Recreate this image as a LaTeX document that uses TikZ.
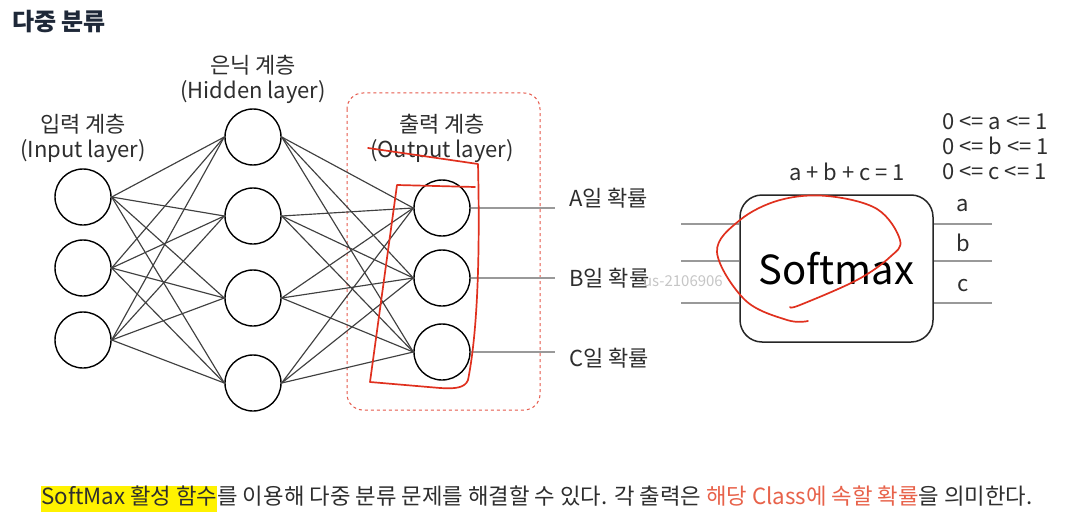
\documentclass[tikz,border=0pt]{standalone}
\usepackage{fontspec}
\setmainfont{Noto Sans CJK KR}
\usetikzlibrary{shapes.misc}
\definecolor{ink}{HTML}{2E2E2E}
\definecolor{titleink}{HTML}{1E2838}
\definecolor{conn}{HTML}{404040}
\definecolor{redpen}{HTML}{E0301E}
\definecolor{orangetxt}{HTML}{E8624A}
\definecolor{hl}{HTML}{FFF200}
\tikzset{
  neuron/.style={circle,draw=black,line width=1.4pt,minimum size=56pt,inner sep=0pt},
  wire/.style={draw=conn,line width=1.15pt},
  outwire/.style={draw=gray!80,line width=1.2pt},
  lbl/.style={text=ink,font=\fontsize{22}{25}\selectfont,align=center,inner sep=0pt},
  pen/.style={draw=redpen,line width=1.7pt,line cap=round,line join=round},
}
\begin{document}
\begin{tikzpicture}[x=1pt,y=-1pt]
\useasboundingbox (0,0) rectangle (1086,524);
\fill[white] (0,0) rectangle (1086,524);

\node[text=titleink,font=\fontsize{24}{28}\selectfont\bfseries,anchor=west,inner sep=0pt] (title) at (12,22) {다중 분류};

% dashed output box
\draw[draw=redpen!80,dashed,line width=1pt,rounded corners=16pt] (347,93) rectangle (540,410);

% layer labels
\node[lbl] (lin) at (83,138) {입력 계층\\(Input layer)};
\node[lbl] (lhid) at (253,79) {은닉 계층\\(Hidden layer)};
\node[lbl] (lout) at (442,138) {출력 계층\\(Output layer)};

% neurons
\node[neuron] (i1) at (83,197) {};
\node[neuron] (i2) at (83,268) {};
\node[neuron] (i3) at (83,340) {};
\node[neuron] (h1) at (253,137) {};
\node[neuron] (h2) at (253,216) {};
\node[neuron] (h3) at (253,298) {};
\node[neuron] (h4) at (253,383) {};
\node[neuron] (o1) at (442,208) {};
\node[neuron] (o2) at (442,278) {};
\node[neuron] (o3) at (442,352) {};

\foreach \i in {1,2,3}{\foreach \h in {1,2,3,4}{\draw[wire] (i\i.east) -- (h\h.west);}}
\foreach \h in {1,2,3,4}{\foreach \o in {1,2,3}{\draw[wire] (h\h.east) -- (o\o.west);}}

% output lines and labels
\coordinate (ea) at (555,208);
\coordinate (eb) at (555,278);
\coordinate (ec) at (555,352);
\draw[outwire] (o1.east) -- (ea);
\draw[outwire] (o2.east) -- (eb);
\draw[outwire] (o3.east) -- (ec);
\node[lbl,anchor=west] (pa) at (569,198) {A일 확률};
\node[lbl,anchor=west] (pb) at (569,278) {B일 확률};
\node[lbl,anchor=west] (pc) at (569,358) {C일 확률};

% watermark
\node[text=gray!45,font=\fontsize{15}{18}\selectfont,anchor=east,inner sep=0pt] (wm) at (723,281) {us-2106906};

% softmax block
\node[draw=black!85,line width=1.5pt,rounded corners=22pt,minimum width=193pt,minimum height=147pt,inner sep=0pt,font=\fontsize{40}{46}\selectfont] (sm) at (836.5,268.5) {Softmax};
\foreach \y/\n in {224/1,261/2,303/3}{
  \coordinate (l\n) at (681,\y);
  \coordinate (r\n) at (992,\y);
  \draw[outwire] (l\n) -- (sm.west |- l\n);
  \draw[outwire] (sm.east |- r\n) -- (r\n);
}
\node[lbl,anchor=center] (va) at (963,206) {a};
\node[lbl,anchor=center] (vb) at (963,243) {b};
\node[lbl,anchor=center] (vc) at (963,286) {c};
\node[lbl] (sum) at (847,172) {a + b + c = 1};
\node[lbl,anchor=west] (ca) at (942,122) {0 <= a <= 1};
\node[lbl,anchor=west] (cb) at (942,146) {0 <= b <= 1};
\node[lbl,anchor=west] (cc) at (942,172) {0 <= c <= 1};

% red pen annotations
\draw[pen] (368,148) -- (478,164) .. controls (480,250) and (478,330) .. (468,380) .. controls (465,388) and (455,389) .. (440,388) -- (370,382) -- (397,185) -- (475,187);
\draw[pen] plot[smooth,tension=0.6] coordinates {(808,321) (787,320) (745,300) (717,252) (740,220) (780,200) (827,196) (877,209) (900,240) (890,257) (857,280) (800,305) (790,307)};

% bottom sentence
\node[anchor=west,inner sep=0pt,font=\fontsize{22.3}{26}\selectfont,text=ink] (foot) at (41,499)
 {\setlength{\fboxsep}{0pt}\colorbox{hl}{\strut SoftMax 활성 함수}를 이용해 다중 분류 문제를 해결할 수 있다. 각 출력은 \textcolor{orangetxt}{해당 Class에 속할 확률}을 의미한다.};
\end{tikzpicture}
\end{document}
